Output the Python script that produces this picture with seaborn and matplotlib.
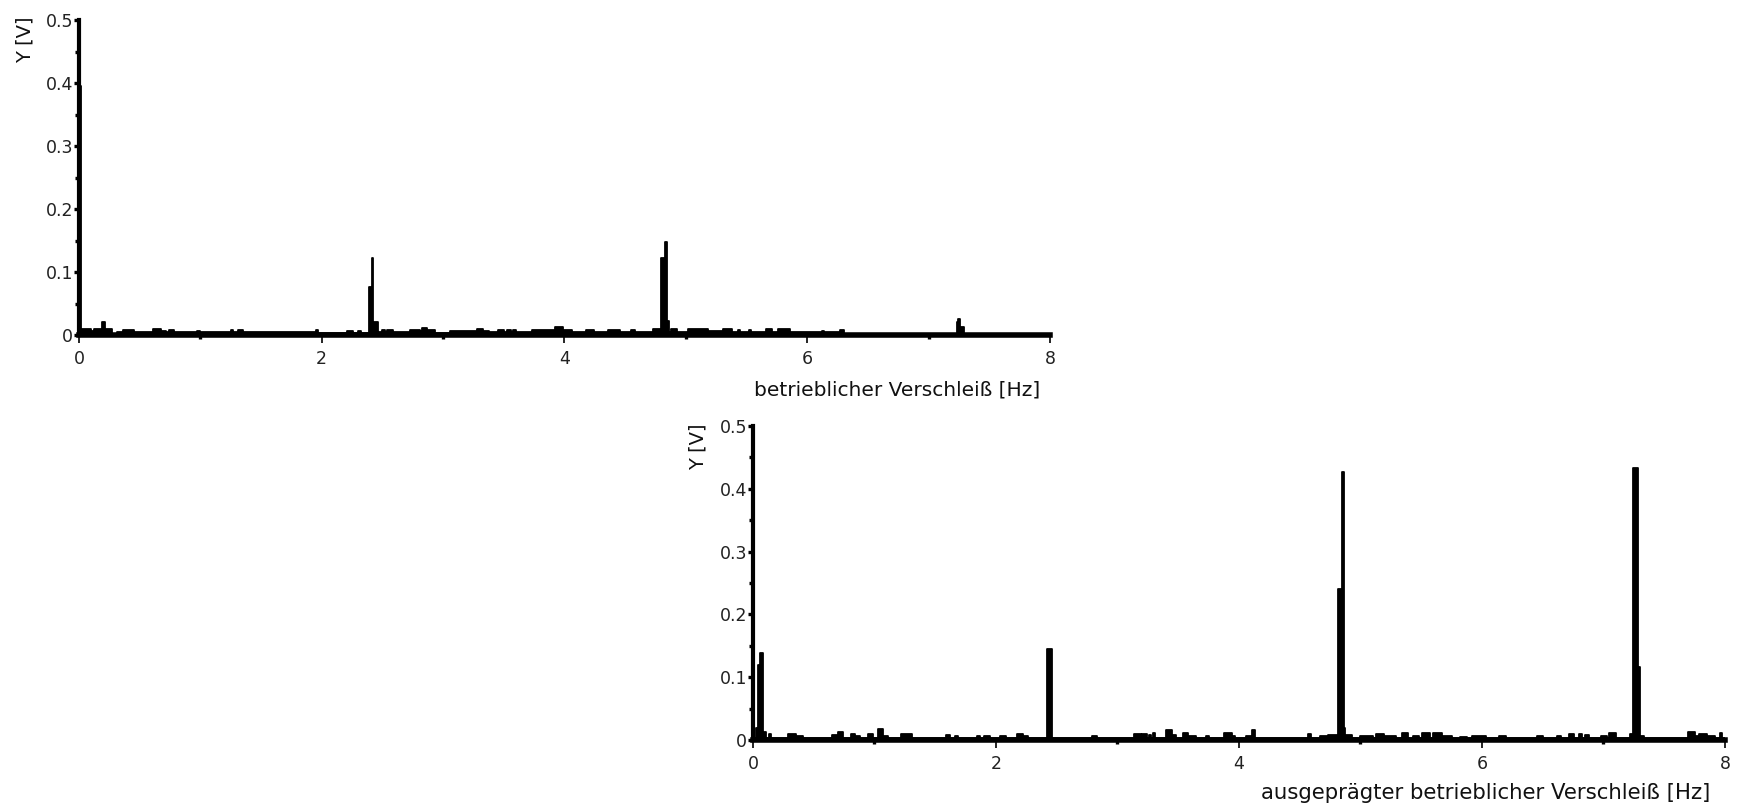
import matplotlib
matplotlib.use("Agg")
import matplotlib.pyplot as plt
import numpy as np
import pandas as pd
import seaborn as sns
from matplotlib.ticker import MultipleLocator, FuncFormatter

# ---------------- data (step change points: frequency [Hz] -> amplitude [V]) -------------
top_freq = [0.00, 0.02, 0.10, 0.12, 0.19, 0.215, 0.27, 0.31, 0.36, 0.45,
            0.61, 0.68, 0.72, 0.74, 0.78, 0.97, 1.00, 1.25, 1.27, 1.31,
            1.35, 1.95, 1.97, 2.21, 2.26, 2.30, 2.32, 2.393, 2.413, 2.422,
            2.46, 2.50, 2.52, 2.54, 2.59, 2.73, 2.81, 2.83, 2.87, 2.93,
            3.06, 3.28, 3.33, 3.38, 3.45, 3.50, 3.53, 3.56, 3.58, 3.60,
            3.73, 3.92, 3.99, 4.06, 4.18, 4.24, 4.36, 4.46, 4.55, 4.58,
            4.73, 4.795, 4.825, 4.845, 4.86, 4.88, 4.93, 5.02, 5.18, 5.31,
            5.38, 5.43, 5.45, 5.52, 5.54, 5.66, 5.71, 5.76, 5.86, 6.12,
            6.14, 6.27, 6.30, 7.23, 7.245, 7.26, 7.29, 8.00]
top_amp = [0.395, 0.009, 0.006, 0.009, 0.021, 0.009, 0.002, 0.004, 0.008, 0.004,
           0.010, 0.006, 0.004, 0.008, 0.004, 0.007, 0.004, 0.008, 0.004, 0.008,
           0.004, 0.008, 0.003, 0.007, 0.003, 0.007, 0.003, 0.077, 0.122, 0.020,
           0.004, 0.008, 0.004, 0.008, 0.004, 0.008, 0.006, 0.011, 0.008, 0.003,
           0.007, 0.010, 0.007, 0.004, 0.008, 0.004, 0.008, 0.004, 0.008, 0.004,
           0.008, 0.012, 0.008, 0.004, 0.008, 0.004, 0.008, 0.004, 0.008, 0.004,
           0.009, 0.122, 0.147, 0.022, 0.004, 0.009, 0.004, 0.009, 0.006, 0.009,
           0.004, 0.008, 0.004, 0.008, 0.004, 0.009, 0.004, 0.009, 0.004, 0.007,
           0.004, 0.008, 0.002, 0.020, 0.026, 0.012, 0.002, 0.002]

bot_freq = [0.000, 0.022, 0.039, 0.058, 0.085, 0.11, 0.13, 0.15, 0.29, 0.35,
            0.41, 0.65, 0.70, 0.74, 0.81, 0.84, 0.88, 0.95, 0.99, 1.03,
            1.07, 1.11, 1.22, 1.31, 1.59, 1.62, 1.66, 1.69, 1.84, 1.87,
            1.90, 1.95, 2.03, 2.08, 2.17, 2.22, 2.26, 2.42, 2.46, 2.79,
            2.83, 3.14, 3.19, 3.20, 3.24, 3.26, 3.28, 3.29, 3.31, 3.40,
            3.45, 3.48, 3.54, 3.58, 3.65, 3.73, 3.75, 3.88, 3.94, 3.97,
            4.06, 4.11, 4.13, 4.57, 4.59, 4.67, 4.73, 4.815, 4.85, 4.862,
            4.875, 4.93, 5.00, 5.10, 5.13, 5.19, 5.29, 5.34, 5.39, 5.43,
            5.48, 5.51, 5.57, 5.60, 5.67, 5.75, 5.82, 5.88, 5.92, 6.03,
            6.14, 6.20, 6.45, 6.50, 6.62, 6.65, 6.72, 6.76, 6.80, 6.82,
            6.85, 6.88, 6.98, 7.03, 7.05, 7.10, 7.22, 7.245, 7.285, 7.305,
            7.33, 7.70, 7.75, 7.79, 7.85, 7.92, 7.96, 7.98, 8.00]
bot_amp = [0.004, 0.019, 0.119, 0.139, 0.012, 0.004, 0.010, 0.004, 0.010, 0.006,
           0.003, 0.008, 0.012, 0.004, 0.010, 0.007, 0.003, 0.010, 0.004, 0.017,
           0.007, 0.003, 0.010, 0.004, 0.008, 0.003, 0.006, 0.003, 0.006, 0.003,
           0.006, 0.003, 0.006, 0.004, 0.010, 0.006, 0.003, 0.145, 0.003, 0.006,
           0.003, 0.010, 0.006, 0.009, 0.004, 0.008, 0.004, 0.011, 0.004, 0.016,
           0.008, 0.003, 0.011, 0.007, 0.003, 0.007, 0.003, 0.011, 0.006, 0.003,
           0.007, 0.016, 0.003, 0.010, 0.003, 0.006, 0.008, 0.241, 0.427, 0.019,
           0.008, 0.003, 0.006, 0.003, 0.010, 0.006, 0.003, 0.011, 0.003, 0.007,
           0.003, 0.011, 0.004, 0.011, 0.006, 0.003, 0.005, 0.003, 0.006, 0.003,
           0.006, 0.003, 0.006, 0.003, 0.007, 0.003, 0.009, 0.003, 0.009, 0.003,
           0.008, 0.003, 0.006, 0.003, 0.011, 0.003, 0.009, 0.433, 0.117, 0.006,
           0.003, 0.013, 0.007, 0.010, 0.007, 0.003, 0.011, 0.003, 0.003]

top_xlabel = "betrieblicher Verschleiß [Hz]"
bot_xlabel = "ausgeprägter betrieblicher Verschleiß [Hz]"
y_label = "Y [V]"
x_ticks = [0, 2, 4, 6, 8]
y_ticks = [0, 0.1, 0.2, 0.3, 0.4, 0.5]

assert len(top_freq) == len(top_amp)
assert len(bot_freq) == len(bot_amp)

# ---------------- style ----------------
sns.set_theme(style="ticks")
plt.rcParams["font.family"] = ["DejaVu Sans"]
plt.rcParams["axes.facecolor"] = "white"
plt.rcParams["figure.facecolor"] = "white"
plt.rcParams["axes.edgecolor"] = "black"

fig = plt.figure(figsize=(17.39, 8.10), dpi=100)
ax_top = fig.add_axes([0.0454, 0.5864, 0.5584, 0.3889])
ax_bot = fig.add_axes([0.4330, 0.0864, 0.5589, 0.3877])


def draw(ax, freq, amp, xlabel, xlab_pos, ylab_pos, xlab_size):
    df = pd.DataFrame({"freq": freq, "amp": amp})
    ax.fill_between(df["freq"], df["amp"], step="post", color="black", lw=0, zorder=1)
    sns.lineplot(data=df, x="freq", y="amp", ax=ax, color="black", lw=1.3,
                 drawstyle="steps-post", estimator=None, legend=False, zorder=2)
    ax.set_xlim(0, 8)
    ax.set_ylim(0, 0.5)
    sns.despine(ax=ax)
    for side, lw in (("left", 3.0), ("bottom", 4.0)):
        ax.spines[side].set_linewidth(lw)
        ax.spines[side].set_color("black")
        ax.spines[side].set_zorder(3)

    ax.set_xticks(x_ticks)
    ax.set_yticks(y_ticks)
    ax.xaxis.set_minor_locator(MultipleLocator(1))
    ax.yaxis.set_minor_locator(MultipleLocator(0.05))
    ax.xaxis.set_major_formatter(FuncFormatter(lambda v, p: f"{v:g}"))
    ax.yaxis.set_major_formatter(FuncFormatter(lambda v, p: "0" if v == 0 else f"{v:.1f}"))

    ax.tick_params(axis="y", which="major", direction="out", length=3.6, width=2.4,
                   pad=0.5, labelsize=12.5, labelcolor="#222222", color="black")
    ax.tick_params(axis="y", which="minor", direction="out", length=3.2, width=2.4,
                   color="black")
    ax.tick_params(axis="x", which="major", direction="out", length=6, width=1.2,
                   pad=4.5, labelsize=12.5, labelcolor="#222222", color="black")
    ax.tick_params(axis="x", which="minor", direction="out", length=3, width=2.4,
                   color="black")

    ax.set_xlabel(xlabel, fontsize=xlab_size, color="#111111", ha="right", va="center")
    ax.xaxis.set_label_coords(*xlab_pos)
    ax.set_ylabel(y_label, fontsize=14, color="#111111", ha="center", va="center")
    ax.yaxis.set_label_coords(*ylab_pos)
    ax.grid(False)


draw(ax_top, top_freq, top_amp, top_xlabel, (0.99, -0.175), (-0.0556, 0.937), 14.5)
draw(ax_bot, bot_freq, bot_amp, bot_xlabel, (0.985, -0.169), (-0.0566, 0.933), 15.3)

fig.savefig("out.png", dpi=100, facecolor="white")
